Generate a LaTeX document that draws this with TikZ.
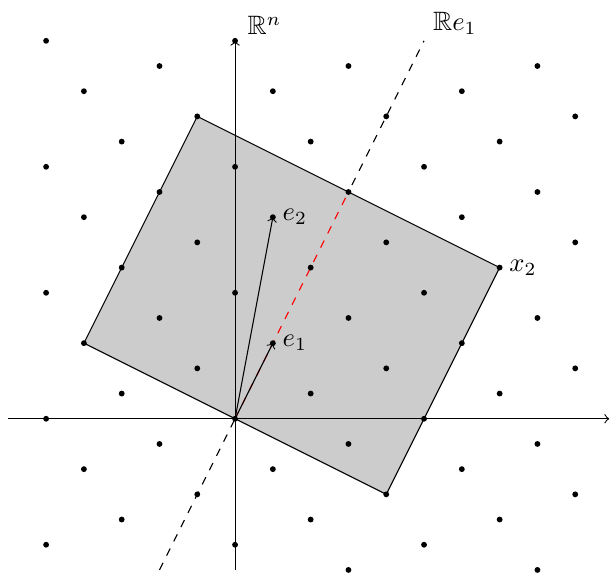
\documentclass[tikz,border=0pt]{standalone}
\usepackage{amsmath,amssymb}
\usetikzlibrary{positioning}

\begin{document}
\begin{tikzpicture}[
        x=0.5cm, y=0.5cm,
        dot/.style={fill=black},
        axis/.style={->},
        fund/.style={draw, fill=gray!40},
        lbl/.style={inner sep=2pt}
      ]
      \useasboundingbox (-6.22,-4.1) rectangle (9.92,11.08);

      % Points
      \coordinate (O) at (0,0);
      \coordinate (e1) at (1,2);
      \coordinate (e2) at (1,16/3);
      \coordinate (A) at (-4,2);
      \coordinate (B) at (-1,8);
      \coordinate (x2) at (7,4);
      \coordinate (C) at (4,-2);
      \coordinate (L0) at (-2,-4);
      \coordinate (L1) at (5,10);
      \coordinate (M) at (3,6);

      % Line Re_1
      \draw[dashed] (L0) -- (L1);

      % Fundamental domain
      \draw[fund] (A) -- (B) -- (x2) -- (C) -- cycle;

      % Axes
      \draw[axis] (-6,0) -- (9.9,0);
      \draw[axis] (0,-4) -- (0,10);

      % Part of Re_1 inside the domain
      \draw[dashed, red] (O) -- (M);

      % Lattice (not at the ends of Re_1)
      \foreach \x in {-5,...,9} {
        \foreach \b in {-9,...,9} {
          \pgfmathsetmacro\yy{2*\x+10*\b/3}
          \pgfmathtruncatemacro\skip{(\b==0)&&((\x<-1)||(\x>4))}
          \ifnum\skip=0
          \ifdim\yy pt<-4.01pt\else\ifdim\yy pt>10.01pt\else
            \fill[dot] (\x,\yy) circle (1.1pt);
          \fi\fi
          \fi
        }
      }

      % Basis vectors
      \draw[->] (O) -- (e1);
      \draw[->] (O) -- (e2);

      % Labels
      \node[lbl, right=1.5pt of e1] (le1) {$e_1$};
      \node[lbl, right=1.5pt of e2] (le2) {$e_2$};
      \node[lbl, right=1.5pt of x2] (lx2) {$x_2$};
      \node[lbl, above right=0pt and 2.5pt of {(0,10)}] (lRn) {$\mathbb{R}^n$};
      \node[lbl, above right=0pt and 1.2pt of L1] (lRe) {$\mathbb{R}e_1$};
    \end{tikzpicture}
\end{document}
